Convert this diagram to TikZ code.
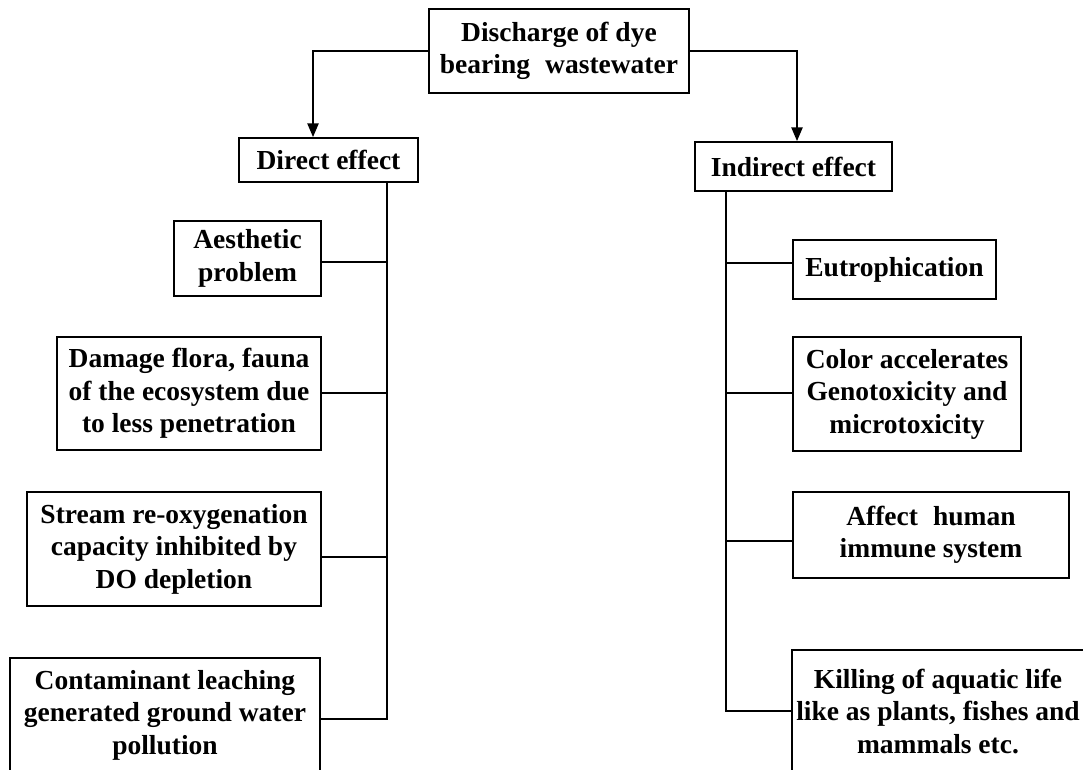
\documentclass[tikz,border=0pt]{standalone}
\usepackage{fontspec}
\setmainfont{Liberation Serif}
\usetikzlibrary{arrows.meta}
\begin{document}
\begin{tikzpicture}[x=1pt,y=-1pt,
  box/.style={draw,line width=1.5pt,inner sep=0pt,align=center,
    font=\bfseries\fontsize{27.5}{32.5}\selectfont},
  conn/.style={line width=2.6pt},
  arr/.style={conn,-{Triangle[length=14pt,width=11pt]}}]
\clip (0,0) rectangle (1083,769);
\fill[white] (0,0) rectangle (1083,769);
% nodes
\node[box,minimum width=260,minimum height=84] (top) at (559,51) {Discharge of dye\\bearing\hspace{0.3em} wastewater};
\node[box,minimum width=179,minimum height=44] (direct) at (328.5,160) {Direct effect};
\node[box,minimum width=197,minimum height=49] (indirect) at (793.5,166.5) {Indirect effect};
\node[box,minimum width=147,minimum height=75] (aes) at (247.5,258.5) {Aesthetic\\problem};
\node[box,minimum width=264,minimum height=113] (dam) at (189,393.5) {Damage flora, fauna\\of the ecosystem due\\to less penetration};
\node[box,minimum width=294,minimum height=114] (str) at (174,549) {Stream re-oxygenation\\capacity inhibited by\\DO depletion};
\node[box,minimum width=310,minimum height=114] (con) at (165,715) {Contaminant leaching\\generated ground water\\pollution};
\node[box,minimum width=203,minimum height=59] (eut) at (894.5,269.5) {Eutrophication};
\node[box,minimum width=228,minimum height=114] (col) at (907,394) {Color accelerates\\Genotoxicity and\\microtoxicity};
\node[box,minimum width=276,minimum height=86] (aff) at (931,535) {Affect\hspace{0.3em} human\\immune system};
\node[box,minimum width=292,minimum height=122] (kil) at (938,711) {Killing of aquatic life\\like as plants, fishes and\\mammals etc.};
% branch coordinates
\coordinate (L1) at (387,262);
\coordinate (L2) at (387,393);
\coordinate (L3) at (387,557);
\coordinate (L4) at (387,719);
\coordinate (R1) at (726,263);
\coordinate (R2) at (726,393);
\coordinate (R3) at (726,541);
\coordinate (R4) at (726,711);
% arrows from top
\draw[arr] (top.west) -| ([xshift=-15.5pt]direct.north);
\draw[arr] (top.east) -| ([xshift=3.5pt]indirect.north);
% left trunk
\draw[conn] (direct.south -| L1) -- (L4) -- (L4 -| con.east);
\draw[conn] (L1) -- (L1 -| aes.east);
\draw[conn] (L2) -- (L2 -| dam.east);
\draw[conn] (L3) -- (L3 -| str.east);
% right trunk
\draw[conn] (indirect.south -| R1) -- (R4) -- (R4 -| kil.west);
\draw[conn] (R1) -- (R1 -| eut.west);
\draw[conn] (R2) -- (R2 -| col.west);
\draw[conn] (R3) -- (R3 -| aff.west);
\end{tikzpicture}
\end{document}
